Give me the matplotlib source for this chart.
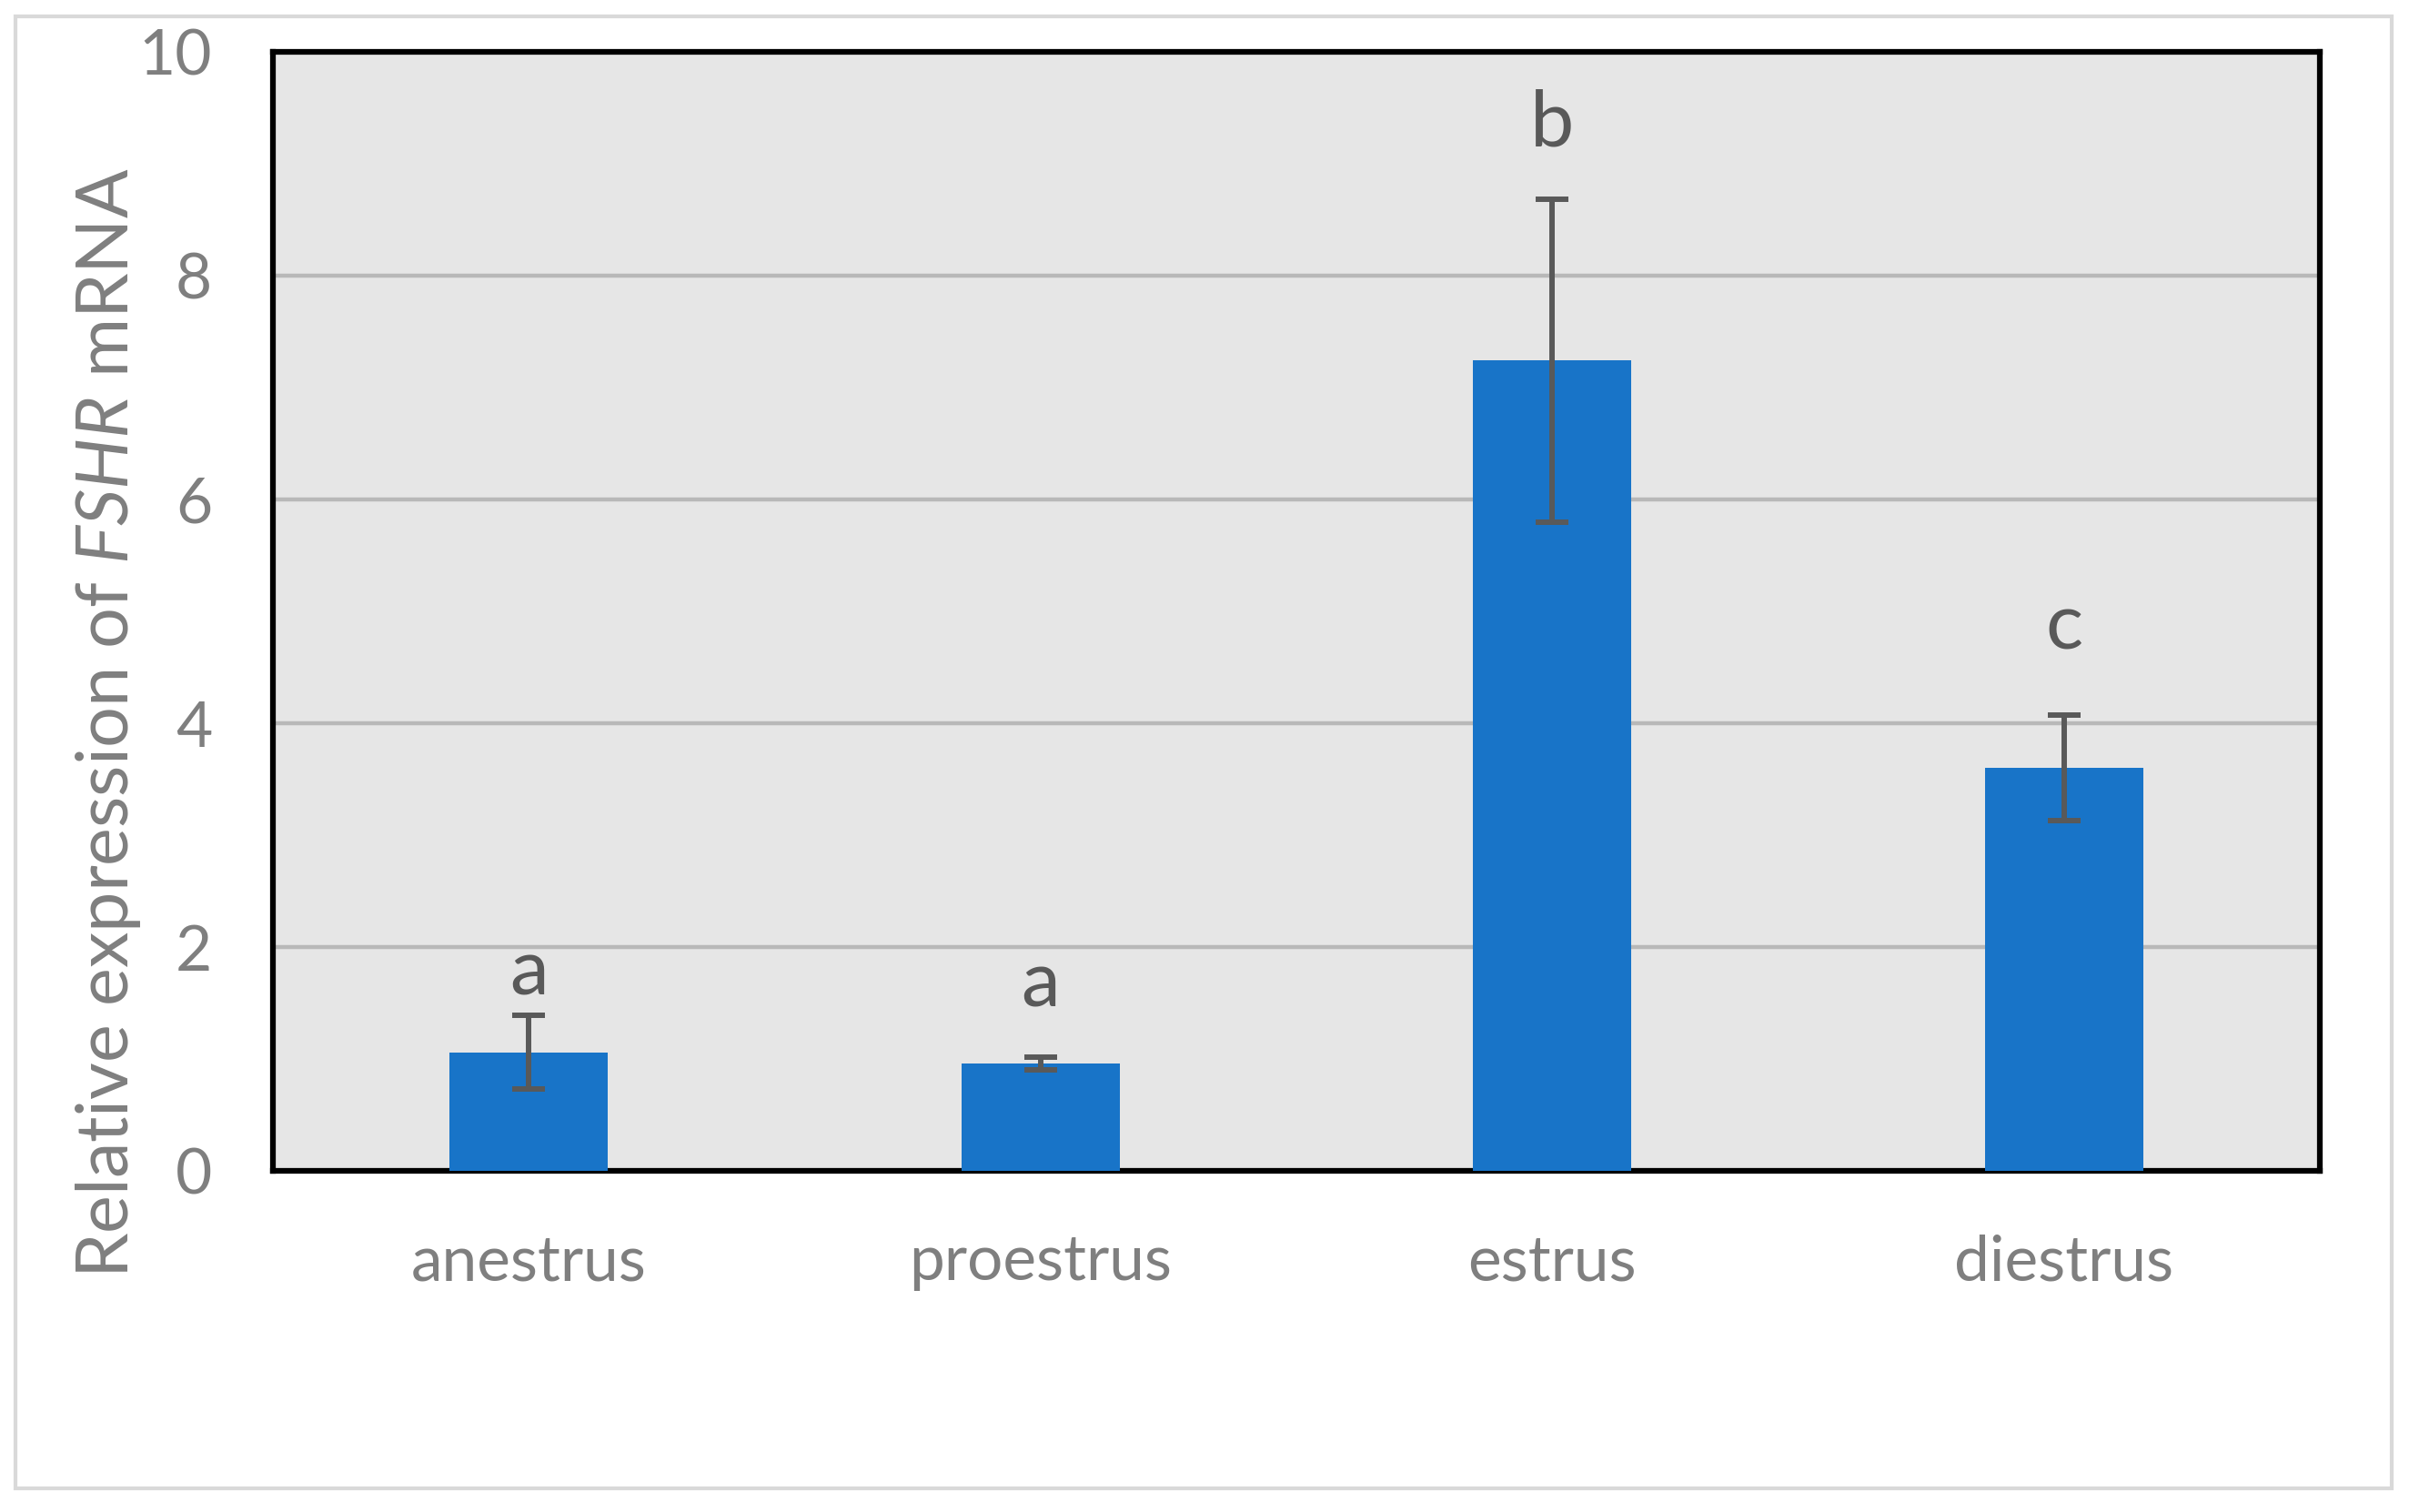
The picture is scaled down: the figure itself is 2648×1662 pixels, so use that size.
import matplotlib.pyplot as plt
from matplotlib.patches import Rectangle

# data
stages = ["anestrus", "proestrus", "estrus", "diestrus"]
expression = [1.06, 0.96, 7.24, 3.60]
errors = [0.33, 0.06, 1.44, 0.47]
letters = ["a", "a", "b", "c"]
letter_y = [1.57, 1.47, 9.16, 4.66]

plt.rcParams["font.family"] = ["Lato", "DejaVu Sans"]
plt.rcParams["mathtext.fontset"] = "custom"
plt.rcParams["mathtext.rm"] = "Lato"
plt.rcParams["mathtext.it"] = "Lato:italic"

fig = plt.figure(figsize=(26.48, 16.62), dpi=100)
ax = fig.add_axes([0.1133, 0.2256, 0.8497, 0.7401])

# outer chart border like the Excel chart area
fig.patches.append(Rectangle((17 / 2648, 1 - 1636 / 1662), 2612 / 2648, 1618 / 1662,
                             transform=fig.transFigure, fill=False,
                             edgecolor="#d9d9d9", linewidth=3))

ax.set_facecolor("#e6e6e6")
x = range(len(stages))
ax.bar(x, expression, width=0.31, color="#1874c8", zorder=3)
ax.errorbar(x, expression, yerr=errors, fmt="none", ecolor="#595959",
            elinewidth=4.3, capsize=13, capthick=4.3, zorder=4)

for xi, lab, ly in zip(x, letters, letter_y):
    ax.text(xi, ly, lab, ha="center", va="baseline", fontsize=62,
            color="#595959", zorder=5)

ax.set_xlim(-0.5, 3.5)
ax.set_ylim(0, 10)
ax.set_yticks([0, 2, 4, 6, 8, 10])
ax.set_xticks(list(x))
ax.set_xticklabels(stages)
ax.tick_params(axis="both", length=0, labelsize=50, labelcolor="#7f7f7f")
ax.tick_params(axis="y", pad=48)
ax.tick_params(axis="x", pad=50)
ax.yaxis.grid(True, color="#b8b8b8", linewidth=3.2, zorder=0)
ax.set_axisbelow(True)

for s in ax.spines.values():
    s.set_linewidth(4.5)
    s.set_color("black")

ax.set_ylabel("Relative expression of $\\mathit{FSHR}$ mRNA", fontsize=57,
              color="#7f7f7f")
ax.yaxis.set_label_coords(-0.0636, 0.40)

fig.savefig("out.png", dpi=100)
